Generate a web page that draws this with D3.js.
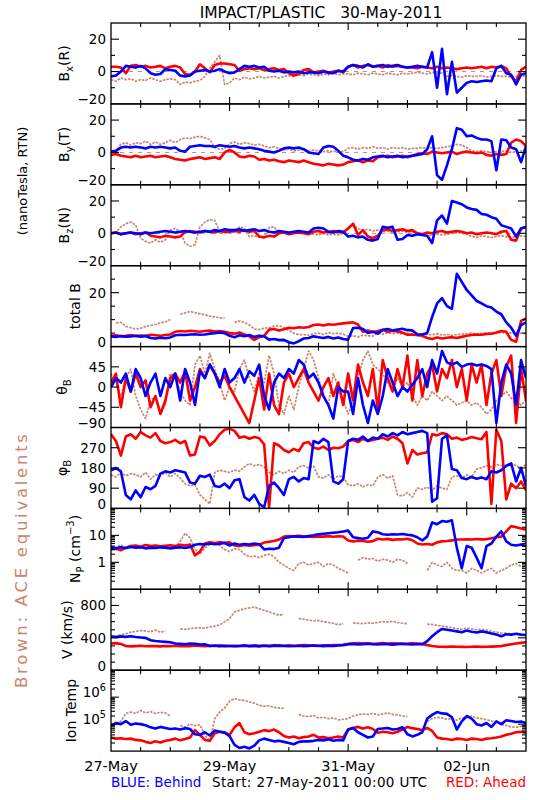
<!DOCTYPE html>
<html><head><meta charset="utf-8">
<script src="https://cdn.jsdelivr.net/npm/d3@7"></script>
<style>body{margin:0;background:#fff}text{font-family:"DejaVu Sans",sans-serif}</style>
</head><body><svg id="c" width="550" height="800"></svg>
<script>
// ---- time grid: hours after 27-May-2011 00:00 UTC ----
const hours = [0,2,4,6,8,10,12,14,16,18,20,22,24,26,28,30,32,34,36,38,40,42,44,46,48,50,52,54,56,58,60,62,64,66,68,70,72,74,76,78,80,82,84,86,88,90,92,94,96,98,100,102,104,106,108,110,112,114,116,118,120,122,124,126,128,130,132,134,136,138,140,142,144,146,148,150,152,154,156,158,160,162,164,166,168];
const xTickHours = [0,48,96,144];
const xTickLabels = ["27-May","29-May","31-May","02-Jun"];

// ---- Bx (nT) ----
const bxRed = [3,3,2.5,-1,3.5,4,3,3.5,2.5,3,3.5,2,3,3.5,2.5,-1.5,-2,0,4.5,2,-0.5,4,5,5,4.5,4,0.5,1.5,2,1.5,2,1,1.5,2,1,1.5,-1,-2.5,-1.5,1,1.5,-0.5,0,0.5,-1,0,0.5,-0.5,3,4,2.5,3.5,4,3,3.5,2.5,4,3,3.5,3,2.5,2.5,2,3,2.5,2,3,2,2.5,2,1.5,2,2.5,2,2.5,3,2,3,2.5,3.5,2,-3,-6,1,3];
const bxBlue = [-3,-2.5,0,3.5,3,2.5,3.5,2,-1,-2,-1.5,1.5,1,0.5,-2.5,-3,-2.5,0,0.5,1,0,0.5,1.5,0,-1,-0.5,1.5,3.5,3,3.5,2.5,3,0.5,0,0.5,-0.5,0,-0.5,0,-1,-0.5,-0.5,-1,0,-0.5,-1,0.5,0,3,4,3.5,2.5,4.5,3,3.5,4,3,3.5,4,3,2.5,3,3.5,3,2.5,12,-10,14,-14,6,-13,-10,-7,-6,-6.5,-6,-5.5,-6,2,3.5,-1,-2,-8,-2,-1];
const bxBrown = [-5,-6,-4,-5,-4.5,-6,-5,-5.5,-4,-5,-6,-5,-4.5,-5,-8,-6.5,-7,-6,-5.5,-3,2,6,10,-8,-7,-4,-5,-3.5,-4.5,-4,-3,-4,-3.5,-3,-4,-3,-2.5,-3,-2,-2.5,-1.5,-2,-2.5,-1.5,-2,-1,-2,-1.5,-1.5,-2,-1,-1.5,-2,-1,-1.5,-2,-1,-1.5,-2,-1,-1.5,-1,-0.5,-1,-1.5,-0.5,-1,-1,-3,-2.5,-3,-3.5,-2.5,-3,-3,-2.5,-3.5,-3,-2.5,-3,-3,-3.5,-3,-2.5,-3];
// ---- By (nT) ----
const byRed = [-1.5,-1,-2,-2.5,-3,-2,-3,-2.5,-2,-3,-2.5,-2,-3,-4,-4.5,-5,-4,-3.5,-3,-4,-3.5,-3,-4,0,1.5,0,-2.5,-3,-2,-2.5,-4.5,-4,-5,-4.5,-5.5,-6,-5,-5.5,-6,-5,-6,-7,-7.5,-8,-7,-7.5,-8,-7.5,-6,-5.5,-5,-6,-5,-5.5,-3,-2.5,-2,-3,-2.5,-2,-3,-2,-1,-0.5,-1,0.5,0,-0.5,0,0.5,-1,0,0.5,0,-0.5,0,-1.5,-2,-1,-1.5,-1,6,8,7,4];
const byBlue = [0.5,1,3,3.5,3,3.5,3,2.5,3.5,3,3.5,3,2.5,3,1,0.5,3.5,4,4.5,4,4,3.5,4.5,4,3.5,4,3,2.5,3,2.5,2,1,0.5,0,1,2.5,3,2.5,3,2,0,-0.5,-1,3,4,3.5,1,-2,-3,-4.5,-5,-4,-4.5,-3,-2.5,-2,-3,-2.5,-2,-3,-2.5,-2,-1.5,-1,2,10,-14,-17,-8,2,15,14,10,10.5,9,8,8,7,-11,8,7.5,3,2,-6,4];
const byBrown = [0,1,5,6,4.5,6,5.5,7,5,6.5,5,6,7.5,6,8,9,8.5,9.5,10,9,8,3,2,2.5,5.5,6.5,5,6,5.5,4.5,5,4,3,3.5,2.5,1.5,2,1,1.5,2,1,1.5,1,0.5,1,0.5,1,0.5,2.5,3,2,3,2.5,3.5,2.5,3,2,3,2.5,3,2,2.5,2.5,3,2.5,3,2.5,3,3.5,4,5,4.5,3,1,0.5,1,0.5,0,0.5,1,0.5,0,0.5,1,0.5];
// ---- Bz (nT) ----
const bzRed = [0,0.5,-0.5,0,0.5,-0.5,0,0.5,-1.5,-2,-2.5,-1.5,-2,-2.5,-2,1,1.5,1,0.5,1.5,1,0.5,1.5,1,1,1.5,1,2,1,1.5,-2,-2.5,-1.5,-2,0,0.5,-0.5,0,0.5,0,-0.5,1,1.5,0.5,1,1.5,1,0.5,3,6,-1,2,-2,-3,-1.5,2,2.5,1.5,2,2.5,1.5,2,0,-0.5,0.5,0,1,1.5,0.5,1,1.5,1,0,0.5,-0.5,0,0.5,0,-0.5,1,1.5,-4,-4.5,3,4];
const bzBlue = [0,0.5,-0.5,0,0.5,0,-0.5,0.5,0,0.5,1,1.5,1,0.5,1,1.5,1,0.5,1,1.5,1,2,1.5,2.5,2,2,2.5,1.5,2,2.5,1.5,2,1,0.5,1.5,1,0.5,1,1.5,1,0.5,3,3.5,3,1,0.5,1.5,1,-2,-1.5,-2.5,-2,-4,-4.5,-3.5,4,3.5,4,-4,-3.5,-1,-1.5,-0.5,-1,-1.5,-6,8,11,6,20,19,18,16,15,14.5,12,11.5,10,9,5,4,3,-2,3,4];
const bzBrown = [0,0.5,4,6,7,5,-3,-5,-6,-4,-5.5,-4,2,3,1,-6,-8,-7,4,7,8.5,8,1,0,0.5,1,4,3,-2,-1.5,-2.5,-2,3.5,4,0,0.5,-0.5,0,0.5,0,-0.5,-0.5,-1,0,-1,-0.5,-1,0,4,5,3,2,2.5,1.5,2,1,1.5,0.5,1,1.5,0.5,1,-1,-0.5,-1.5,-1,-0.5,-1,-0.5,0,0.5,0,-0.5,-2,-2.5,-1.5,-2,-2.5,-2,-1.5,-2,-2.5,-2,-1.5,-2];
// ---- |B| (nT) ----
const btRed = [4,4.2,3.8,4,4.3,3.9,4.1,4,4.4,4.2,4,4.3,4.5,5.5,5.8,5.6,5.9,5.7,5.5,5.8,6,5.6,5.8,5.5,5,4.8,5.2,4.5,3.8,2.5,3.5,4,6.3,6.5,6,6.4,7,6.8,7.2,7,7.3,8,8.2,7.8,8.3,8.1,8.4,8.6,8.8,9,8.2,5.5,6,5.4,5.8,6.2,5.5,5.9,5.6,5.2,4.4,4.5,4.2,4,3.2,2.8,3.4,3,3.3,3.5,3.2,3.6,4,4.3,4.5,4.4,4.7,4.8,5.2,5.8,5.5,2.5,1.8,9.5,10.5];
const btBlue = [3.8,3.6,3.9,3.7,3.8,4,3.7,3.9,3.2,3,3.3,3.1,3.4,4.2,4.4,4.3,4.5,4.6,4.4,4.5,4.8,5,5.2,5,4,3.5,4.2,3.8,4.3,3.6,4,3.8,2.6,2.8,2.4,2.5,1.6,1.2,2,3,3.2,3.8,3.5,3.2,3.6,3,3.4,2.8,2.6,6.9,7,6.5,5,5.5,4.8,6.2,6.5,6,6.3,6.6,6.1,6,4.6,4.5,5,11,16,18,15,14,27,24,21,19,17,16,15,14.5,13,12,9,7,4,8,9];
const btBrown = [null,8.8,9,7.5,7,6.5,6.8,7.5,7.8,8.2,8.8,9.2,10,null,12,12.5,13,12.6,12.2,11.8,11.3,11,10.6,10.5,null,9,9.5,9,8,6.5,6.3,6.8,7,7.6,7.8,7,6,5,4.4,4.5,4.2,4.8,5,4.5,5.2,4.8,5,4.6,3.8,4,3.6,4.2,4,3.9,5,4.6,5.2,4.8,5,4.6,5,4.4,4.6,4.2,4.5,4.4,4.8,4.3,4.5,4.2,4.4,4.6,4.8,5,4.6,4.9,5.2,4.8,5,5.3,4.9,5.1,4.7,5,4.8];
// ---- theta_B (deg) ----
const thRed = [10,30,-45,20,-10,30,0,15,-45,-20,-60,-30,20,30,10,35,-30,0,40,20,50,30,10,25,0,-20,-40,-60,-80,-30,20,-50,30,-40,-60,10,30,0,20,40,10,-10,-30,0,20,-20,10,-40,30,-30,50,10,-20,40,-50,60,20,-10,40,0,70,-30,60,-20,30,50,-10,40,20,60,0,40,-30,50,10,50,-40,30,60,-20,45,70,-80,40,-30];
const thBlue = [0,20,10,30,-10,40,20,-20,10,30,-20,20,0,30,-30,40,10,-40,35,20,50,30,0,40,10,20,40,10,35,25,50,-20,-50,10,30,20,40,30,60,50,20,30,10,-20,-40,-70,0,-10,-10,-60,20,-40,-80,-30,-60,-20,40,10,-20,0,-10,5,20,40,0,60,30,80,55,50,55,45,50,52,48,50,47,40,-80,10,50,30,-40,60,20];
const thBrown = [30,10,-20,20,40,-20,-50,-70,-30,-20,-60,-40,30,20,-10,-30,-40,50,70,30,75,40,10,-30,0,-10,40,60,20,-10,30,10,70,30,-40,-60,-20,-50,0,40,80,60,20,-20,-40,30,0,-30,-60,-30,20,60,80,50,40,30,10,-10,20,0,10,-20,-40,-20,-30,-10,-20,-30,-20,-30,-40,-35,-30,-40,-35,-45,-60,-50,-30,-20,-10,-25,-30,-40,-30];
// ---- phi_B (deg) ----
const phRed = [330,300,235,320,330,310,340,325,315,335,300,290,295,305,290,300,235,240,320,315,280,300,330,350,355,345,315,320,310,318,312,285,5,290,280,260,250,265,255,290,295,270,265,275,260,270,268,275,300,305,295,310,300,305,310,315,305,320,310,290,200,260,240,245,250,330,325,335,330,310,315,305,310,318,312,308,340,20,350,300,40,110,90,120,80];
const phBlue = [170,180,165,60,40,80,50,95,85,100,155,165,160,170,165,160,115,110,145,140,150,100,95,110,90,125,130,50,35,60,20,5,100,115,90,60,130,140,120,135,130,300,290,310,295,120,110,130,300,310,305,320,300,315,310,330,320,335,325,340,330,335,340,345,335,30,45,310,325,175,170,135,130,140,132,138,130,165,160,170,190,200,120,180,100];
const phBrown = [150,140,160,145,155,150,140,160,130,150,145,160,140,155,135,110,100,105,60,40,20,160,170,165,160,170,165,185,200,190,195,185,160,150,165,155,170,160,185,190,180,188,140,135,150,130,145,140,105,100,110,95,105,100,140,150,135,145,60,55,70,50,90,85,95,80,100,90,85,140,145,135,150,140,175,180,190,185,195,190,185,200,190,180,195];
// ---- proton density (cm^-3) ----
const npRed = [3,3.2,2.8,3.5,4,4.2,3.8,4.4,4,4.2,3.9,4.1,4.3,4,4.5,4.2,4.6,1.8,2.5,5,5.5,5.2,5.6,5.3,5.5,4.2,4,4.4,4.1,4.3,4.5,5.4,5.8,6.2,7,9,9.5,9.2,9.6,9.3,9,8.8,9.2,9,9.4,8.9,9.3,9.1,6.5,6,6.4,6.2,5.8,6.1,7.5,7,7.4,6.8,7.2,7,7.5,6.6,5,4.6,4.8,4.5,5.5,6,6.2,6.5,7,7,7.2,7,7.3,7.1,7.2,7.8,8.5,9,14,22,20,18,16];
const npBlue = [3.5,3.3,3.6,3.4,3.7,3.5,3.6,3.3,3.5,3.4,3.6,3.5,3.3,3.5,3.6,3.4,3.7,4.5,4.8,4.6,5,4.7,4.9,5.2,4.2,5,4.5,4.8,4.6,5,4.7,3,3.2,3.1,3.5,8,8.5,9.2,9,8.8,9.4,10,11,11.5,12,12.5,13,14,15,8.5,8,7.5,8.2,14,13,11,10.5,11,10.8,11.2,10.5,10,8.5,6.5,9,30,26,34,32,36,3.5,0.6,4,3.5,1.5,0.6,4,5,9,14,6,4.5,4.2,4.6,4];
const npBrown = [4,3.5,4.5,3,4.2,4,3.8,4.5,4.2,3.5,4,3.8,4.2,3.5,6,12,8,3,2,3.5,4.5,5,4.2,3,2.5,3.2,3,2,1.6,1.7,1.5,1.8,2,1.6,1,0.8,0.6,0.5,0.9,1,0.8,0.9,1,0.7,0.9,0.8,0.6,0.5,0.4,null,1.2,1.5,1.3,1.4,1.1,1.3,1.2,1,1.3,1.2,0.9,null,null,null,0.5,1,0.8,0.7,1,0.6,0.5,0.5,0.4,0.6,0.5,0.4,0.5,0.6,0.4,0.5,0.6,0.8,0.9,0.7,0.6];
// ---- bulk speed (km/s) ----
const vRed = [330,335,325,300,295,298,302,296,300,298,295,300,297,302,298,300,296,305,300,298,302,300,304,298,300,303,299,305,300,308,302,305,300,310,306,303,308,300,305,310,307,304,300,308,305,310,312,315,325,330,335,328,332,326,330,335,328,332,330,325,328,333,330,325,310,300,292,290,288,292,290,288,286,290,292,288,290,292,295,298,310,320,330,338,345];
const vBlue = [415,410,418,412,420,410,405,400,370,360,355,350,345,330,325,320,330,325,318,320,300,305,298,302,300,296,300,304,298,300,295,302,298,300,304,300,296,300,302,298,300,305,302,298,304,300,306,310,320,325,318,322,326,320,318,324,320,316,322,326,320,318,322,320,360,420,470,510,500,490,480,470,490,475,465,480,470,455,440,420,445,440,450,440,435];
const vBrown = [430,420,440,450,470,480,490,485,475,495,470,480,null,null,510,505,515,520,525,520,535,545,560,600,640,720,740,760,770,780,760,740,720,700,680,690,null,null,640,630,620,610,615,600,590,580,560,575,null,585,580,575,585,580,590,600,595,605,590,580,575,null,null,null,570,565,555,545,535,525,515,505,520,510,500,505,495,480,470,460,455,450,445,440,435];
// ---- ion temperature (K) ----
const tRed = [3.2e4,2.9e4,3.0e4,2.8e4,2.9e4,2.6e4,2.5e4,2.2e4,2.0e4,2.3e4,2.1e4,2.4e4,2.6e4,2.9e4,2.5e4,2.8e4,3.2e4,6.0e4,4.0e4,2.6e4,2.4e4,4.6e4,5.2e4,5.0e4,4.0e4,7.6e4,1.1e5,5.0e4,4.2e4,4.6e4,5.2e4,6.0e4,5.5e4,6.3e4,5.0e4,3.6e4,3.2e4,3.5e4,3.0e4,3.3e4,3.5e4,4.0e4,3.2e4,3.3e4,3.0e4,3.2e4,3.5e4,3.2e4,6.3e4,7.2e4,7.9e4,6.9e4,7.6e4,6.6e4,4.8e4,5.2e4,5.0e4,4.6e4,5.2e4,6.3e4,7.9e4,7.1e4,6.6e4,6.0e4,7.2e4,5.6e4,3.2e4,2.9e4,2.8e4,2.6e4,2.9e4,2.8e4,2.6e4,2.9e4,2.8e4,2.6e4,2.9e4,3.0e4,3.2e4,3.5e4,4.0e4,4.4e4,5.0e4,5.2e4,4.8e4];
const tBlue = [8.9e4,1.1e5,1.0e5,1.3e5,9.5e4,1.05e5,1.0e5,9.1e4,7.6e4,6.9e4,7.9e4,7.2e4,6.6e4,6.9e4,6.3e4,7.1e4,6.6e4,4.2e4,4.0e4,5.0e4,3.8e4,5.8e4,5.2e4,4.8e4,3.6e4,1.7e4,1.3e4,1.45e4,1.26e4,1.6e4,2.5e4,2.9e4,2.6e4,2.3e4,2.4e4,2.2e4,2.0e4,1.8e4,2.2e4,2.3e4,2.3e4,2.4e4,2.6e4,2.5e4,2.75e4,2.4e4,2.6e4,2.5e4,6.3e4,7.2e4,5.0e4,4.0e4,3.2e4,3.5e4,6.6e4,6.9e4,7.2e4,6.3e4,6.6e4,7.6e4,4.2e4,3.5e4,4.0e4,5.0e4,1.6e5,2.2e5,2.8e5,2.5e5,2.4e5,1.8e5,6.3e4,1.26e5,2.0e5,1.6e5,1.0e5,8.9e4,1.1e5,7.9e4,1.26e5,1.0e5,1.4e5,1.3e5,1.2e5,1.26e5,1.1e5];
const tBrown = [null,1.1e5,1.26e5,2.5e5,2.8e5,2.5e5,3.2e5,2.6e5,2.9e5,2.5e5,2.75e5,2.6e5,2.0e5,null,8.9e4,7.9e4,1.0e5,8.7e4,9.5e4,4.0e4,2.3e4,1.6e5,2.8e5,4.0e5,7.1e5,8.9e5,7.9e5,7.6e5,6.6e5,6.0e5,5.0e5,4.6e5,4.8e5,4.2e5,4.0e5,3.8e5,null,null,2.3e5,2.0e5,1.9e5,2.1e5,1.7e5,1.8e5,1.6e5,1.7e5,1.45e5,1.5e5,1.6e5,2.0e5,2.2e5,2.4e5,2.3e5,2.5e5,2.2e5,2.4e5,2.6e5,2.3e5,2.2e5,2.0e5,1.9e5,null,null,null,1.26e5,1.6e5,1.8e5,1.7e5,1.5e5,1.6e5,1.4e5,1.7e5,1.8e5,2.0e5,1.7e5,1.6e5,1.45e5,1.3e5,1.2e5,1.0e5,8.9e4,7.9e4,7.6e4,8.3e4,7.9e4];

// ---- tick labels ----
const bTicks = [-20,0,20], bTickLabels = ["\u221220","0","20"];
const btTicks = [0,20], btTickLabels = ["0","20"];
const thTicks = [-90,-45,0,45], thTickLabels = ["\u221290","\u221245","0","45"];
const phTicks = [0,90,180,270], phTickLabels = ["0","90","180","270"];
const npTicks = [1,10], npTickLabels = ["1","10"];
const vTicks = [0,400,800], vTickLabels = ["0","400","800"];
const tTicks = [1e5,1e6], tTickExp = ["5","6"];

// ---------------- drawing ----------------
const RED="#ff0000", BLUE="#0000ff", BROWN="#c8866c";
const svg = d3.select("#c");
const X0=111, X1=526, TOP=23, PH=80.9;
const t0 = Date.UTC(2011,4,27);
const x = d3.scaleUtc().domain([new Date(t0), new Date(t0+168*3600e3)]).range([X0,X1]);
const times = hours.map(h => new Date(t0 + h*3600e3));

const panels = [
 {lab:[["B",""],["x","sub"],["(R)",""]], lx:69, type:"lin", dom:[-20,30], ticks:bTicks, tl:bTickLabels, minor:[-10,10], zero:true, s:[bxBrown,bxRed,bxBlue]},
 {lab:[["B",""],["y","sub"],["(T)",""]], lx:69, type:"lin", dom:[-20,30], ticks:bTicks, tl:bTickLabels, minor:[-10,10], zero:true, s:[byBrown,byRed,byBlue]},
 {lab:[["B",""],["z","sub"],["(N)",""]], lx:69, type:"lin", dom:[-20,30], ticks:bTicks, tl:bTickLabels, minor:[-10,10], zero:true, s:[bzBrown,bzRed,bzBlue]},
 {lab:[["total B",""]], lx:80, type:"lin", dom:[0,30], ticks:btTicks, tl:btTickLabels, minor:[5,10,15,25], s:[btBrown,btRed,btBlue]},
 {lab:[["\u03b8",""],["B","sub"]], lx:67, type:"lin", dom:[-90,90], ticks:thTicks, tl:thTickLabels, minor:[], s:[thBrown,thRed,thBlue]},
 {lab:[["\u03c6",""],["B","sub"]], lx:67, type:"lin", dom:[0,360], ticks:phTicks, tl:phTickLabels, minor:[], s:[phBrown,phRed,phBlue]},
 {lab:[["N",""],["P","sub"],[" (cm",""],["\u22123","sup"],[")",""]], lx:80, type:"log", dom:[0.1,100], ticks:npTicks, tl:npTickLabels, s:[npBrown,npRed,npBlue]},
 {lab:[["V (km/s)",""]], lx:72, type:"lin", dom:[0,1000], ticks:vTicks, tl:vTickLabels, minor:[100,200,300,500,600,700,900], s:[vBrown,vRed,vBlue]},
 {lab:[["Ion Temp",""]], lx:76, type:"log", dom:[1e4,1e7], ticks:tTicks, exp:tTickExp, s:[tBrown,tRed,tBlue]}
];

function rich(sel, parts, fs){
  let cur = 0;
  parts.forEach(([t,k]) => {
    const target = k==="sub" ? 4 : (k==="sup" ? -6 : 0);
    sel.append("tspan").attr("dy", target-cur).attr("font-size", k ? fs*0.72 : fs).text(t);
    cur = target;
  });
}

const colors = [BROWN, RED, BLUE];
const widths = [1.7, 2.6, 2.6];
const dashes = ["2.5,1.2", null, null];

panels.forEach((p, i) => {
  const top = TOP + i*PH, bot = top + PH;
  const y = (p.type==="log" ? d3.scaleLog() : d3.scaleLinear()).domain(p.dom).range([bot, top]);
  const g = svg.append("g");
  const cid = "clip"+i;
  svg.append("clipPath").attr("id",cid).append("rect").attr("x",X0).attr("y",top).attr("width",X1-X0).attr("height",PH);
  const dg = g.append("g").attr("clip-path",`url(#${cid})`);
  if (p.zero) {
    dg.append("line").attr("x1",X0).attr("x2",X1).attr("y1",y(0)).attr("y2",y(0))
      .attr("stroke","#9a9a9a").attr("stroke-width",1).attr("stroke-dasharray","4,5");
  }
  p.s.forEach((arr, k) => {
    const line = d3.line().defined(d => d[1]!=null).x(d => x(d[0])).y(d => y(d[1]));
    const path = dg.append("path").datum(times.map((t,j)=>[t,arr[j]]))
      .attr("d", line).attr("fill","none").attr("stroke",colors[k])
      .attr("stroke-width",widths[k]).attr("stroke-linejoin","round");
    if (dashes[k]) path.attr("stroke-dasharray", dashes[k]);
  });
  // frame
  g.append("rect").attr("x",X0).attr("y",top).attr("width",X1-X0).attr("height",PH)
    .attr("fill","none").attr("stroke","#000").attr("stroke-width",1.3);
  // y ticks (inward on both sides)
  let minor = p.minor || [];
  if (p.type==="log") {
    minor = [];
    for (let e = Math.log10(p.dom[0]); e < Math.log10(p.dom[1]); e++)
      for (let m = 2; m < 10; m++) minor.push(m*Math.pow(10,e));
  }
  const tickSel = (vals, len) => vals.forEach(v => {
    const yy = y(v);
    if (yy <= top+0.5 || yy >= bot-0.5) return;
    g.append("line").attr("x1",X0).attr("x2",X0+len).attr("y1",yy).attr("y2",yy).attr("stroke","#000").attr("stroke-width",1.1);
    g.append("line").attr("x1",X1).attr("x2",X1-len).attr("y1",yy).attr("y2",yy).attr("stroke","#000").attr("stroke-width",1.1);
  });
  tickSel(p.ticks, 8);
  tickSel(minor, 4);
  // y tick labels
  p.ticks.forEach((v, k) => {
    const yy = Math.min(y(v), bot-4.5);
    const t = g.append("text").attr("x",106).attr("y",yy).attr("dy","0.36em")
      .attr("text-anchor","end").attr("font-size",13.5);
    if (p.exp) { rich(t, [["10",""],[p.exp[k],"sup"]], 13.5); }
    else t.text(p.tl[k]);
  });
  // x ticks
  for (let h = 12; h < 168; h += 12) {
    const xx = x(new Date(t0 + h*3600e3));
    const len = (h % 48 === 0) ? 7 : 4;
    g.append("line").attr("x1",xx).attr("x2",xx).attr("y1",bot).attr("y2",bot-len).attr("stroke","#000").attr("stroke-width",1.1);
    g.append("line").attr("x1",xx).attr("x2",xx).attr("y1",top).attr("y2",top+len).attr("stroke","#000").attr("stroke-width",1.1);
  }
  // y title
  const cy = top + PH/2;
  const tt = svg.append("text").attr("transform",`translate(${p.lx},${cy}) rotate(-90)`)
    .attr("text-anchor","middle").attr("font-size",14);
  rich(tt, p.lab, 14);
});

// x labels
xTickHours.forEach((h,k) => {
  svg.append("text").attr("x", x(new Date(t0+h*3600e3))).attr("y",771)
    .attr("text-anchor","middle").attr("font-size",14.5).text(xTickLabels[k]);
});

// title & side/footer texts
svg.append("text").attr("x",321).attr("y",18).attr("text-anchor","middle")
  .attr("font-size",15.5).style("white-space","pre").text("IMPACT/PLASTIC   30-May-2011");
svg.append("text").attr("transform","translate(27,181) rotate(-90)").attr("text-anchor","middle")
  .attr("font-size",13).text("(nanoTesla, RTN)");
svg.append("text").attr("transform","translate(27,561) rotate(-90)").attr("text-anchor","middle")
  .attr("font-size",16.5).attr("fill",BROWN).attr("textLength",254).attr("lengthAdjust","spacing")
  .text("Brown: ACE equivalents");
svg.append("text").attr("x",111).attr("y",787).attr("font-size",13.5).attr("fill",BLUE).text("BLUE: Behind");
svg.append("text").attr("x",212).attr("y",787).attr("font-size",13.5).attr("textLength",215).attr("lengthAdjust","spacing").text("Start: 27-May-2011 00:00 UTC");
svg.append("text").attr("x",526).attr("y",787).attr("text-anchor","end").attr("font-size",13.5).attr("fill",RED).text("RED: Ahead");
</script></body></html>
